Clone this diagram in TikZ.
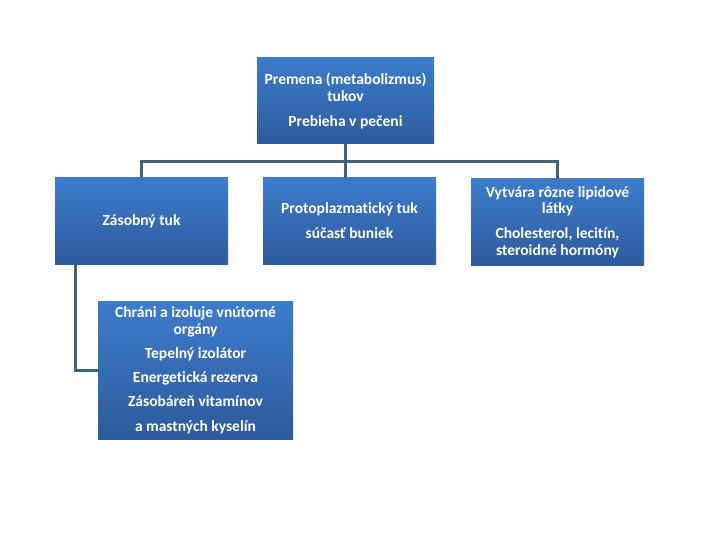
\documentclass[tikz,border=0pt]{standalone}
\usepackage{fontspec}
\setmainfont{Carlito}[Ligatures=NoCommon]
\definecolor{linec}{HTML}{45607F}
\definecolor{boxtop}{HTML}{3D7CCB}
\definecolor{boxbot}{HTML}{2D5B9C}
\begin{document}
\begin{tikzpicture}[x=1pt,y=-1pt,
  box/.style={rectangle, top color=boxtop, bottom color=boxbot, draw=none,
    text=white, align=center, inner sep=2pt,
    font=\fontsize{15.5}{16.8}\selectfont\bfseries},
  conn/.style={draw=linec, line width=3pt}]
\useasboundingbox (0,0) rectangle (720,540);
\node[box, minimum width=177pt, minimum height=86pt] (top) at (345.5,101)
  {Premena (metabolizmus)\\tukov\\[8pt]Prebieha v pečeni};
\node[box, minimum width=173pt, minimum height=86pt] (left) at (141.5,221)
  {\raisebox{-1.5pt}{Zásobný tuk}};
\node[box, minimum width=173pt, minimum height=86pt] (mid) at (349.5,221)
  {Protoplazmatický tuk\\[8pt]súčasť buniek};
\node[box, minimum width=173pt, minimum height=86pt] (right) at (557.5,222)
  {Vytvára rôzne lipidové\\látky\\[8pt]Cholesterol, lecitín,\\steroidné hormóny};
\node[box, minimum width=195pt, minimum height=138pt] (bot) at (195.5,370)
  {Chráni a izoluje vnútorné\\orgány\\[7.5pt]Tepelný izolátor\\[7.5pt]Energetická rezerva\\[7.5pt]Zásobáreň vitamínov\\[7.5pt]a mastných kyselín};
\coordinate (hub) at ([yshift=-17pt]top.south);
\draw[conn] (top.south) -- (top.south |- mid.north);
\draw[conn] (hub) -| (left.north);
\draw[conn] (hub) -| (right.north);
\draw[conn] ([xshift=-66.5pt]left.south) |- (bot.west);
\end{tikzpicture}
\end{document}
